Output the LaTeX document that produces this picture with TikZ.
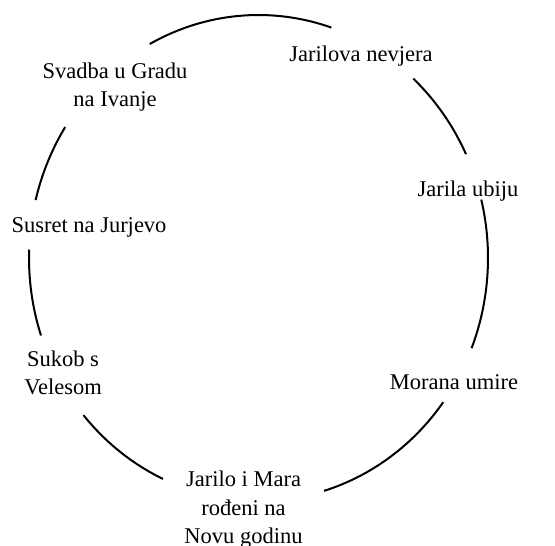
\documentclass[tikz,border=0pt]{standalone}
\usepackage{fontspec}
\setmainfont{Liberation Serif}
\usetikzlibrary{positioning}

\begin{document}
\begin{tikzpicture}[x=1pt,y=1pt,
  lbl/.style={align=center,font=\fontsize{22.5}{28.5}\selectfont,inner sep=0pt,anchor=base},
  ring/.style={line width=2pt}]
  \useasboundingbox (0,0) rectangle (555,546);
  \coordinate (c) at (258.5,288);
  % labels round the cycle
  \node[lbl] (nevjera) at (361,484) {Jarilova nevjera};
  \node[lbl] (ubiju)   at (468,349) {Jarila ubiju};
  \node[lbl] (umire)   at (454,156) {Morana umire};
  \node[lbl] (rodeni)  at (243.5,2) {Jarilo i Mara\\rođeni na\\Novu godinu};
  \node[lbl] (sukob)   at (63,151) {Sukob s\\Velesom};
  \node[lbl] (susret)  at (89,313) {Susret na Jurjevo};
  \node[lbl] (svadba)  at (115,439) {Svadba u Gradu\\na Ivanje};
  % arcs between them
  \foreach \a/\b in {71.5/118.3, 147.4/166.2, 178/198.6, 220.3/245.4, 286.6/323.6, 338.2/373.9, 25.3/47.6}
    \draw[ring] ([shift={(\a:229.5 and 243)}]c) arc[start angle=\a, end angle=\b, x radius=229.5, y radius=243];
\end{tikzpicture}
\end{document}
